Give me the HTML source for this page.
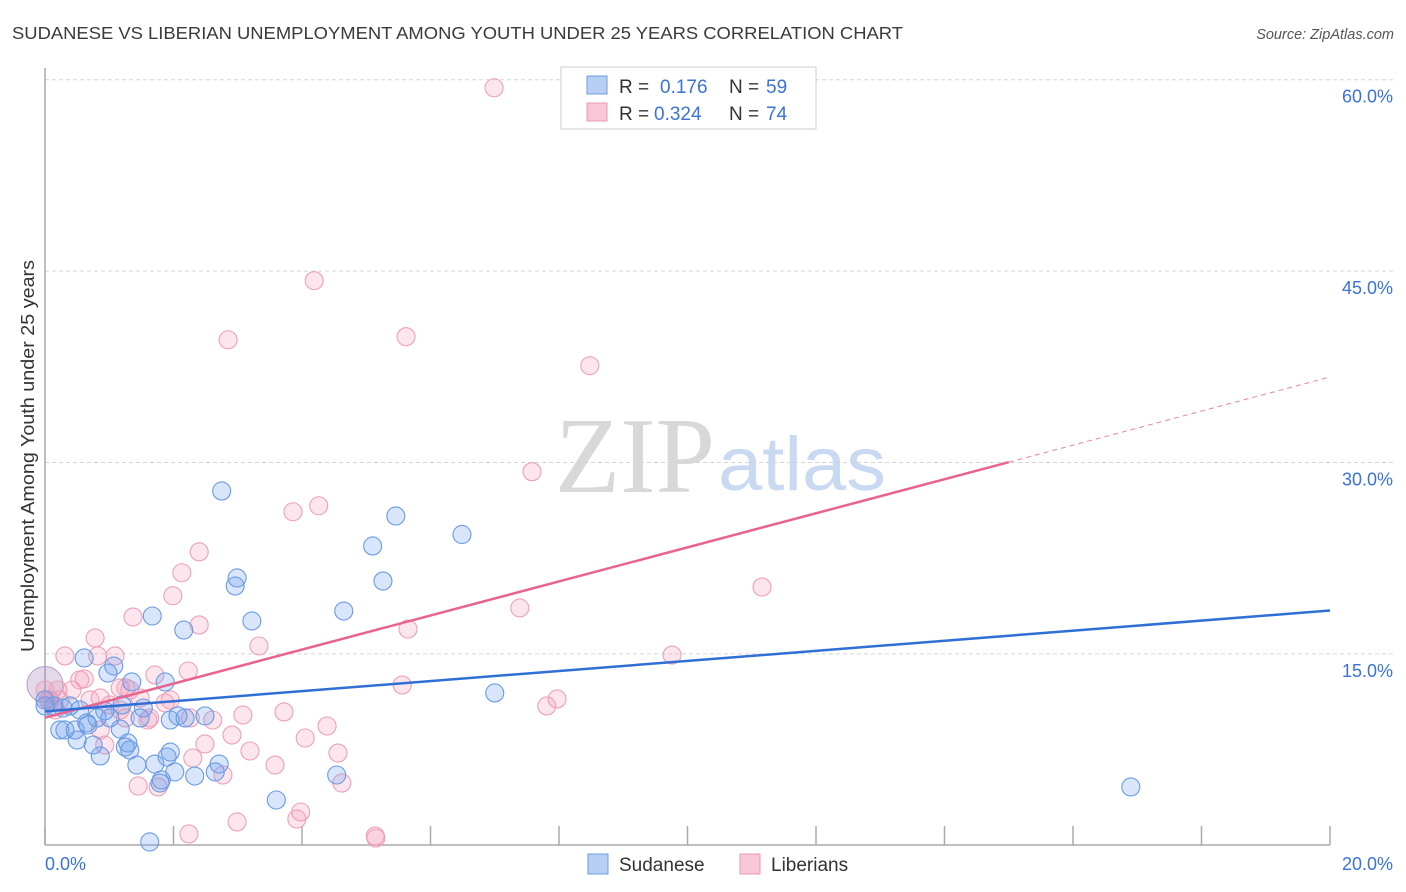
<!DOCTYPE html>
<html><head><meta charset="utf-8"><style>
body{margin:0;background:#fff;font-family:"Liberation Sans",sans-serif;}
svg{display:block}
</style></head><body>
<svg width="1406" height="892" id="chart">
<text x="12" y="39" font-size="17.5" fill="#3a3a3a" textLength="891" lengthAdjust="spacingAndGlyphs">SUDANESE VS LIBERIAN UNEMPLOYMENT AMONG YOUTH UNDER 25 YEARS CORRELATION CHART</text>
<text x="1394" y="39" font-size="14.5" fill="#555" text-anchor="end" font-style="italic">Source: ZipAtlas.com</text>
<text x="0" y="0" transform="translate(34,456) rotate(-90)" font-size="18" fill="#333" text-anchor="middle" textLength="392" lengthAdjust="spacingAndGlyphs">Unemployment Among Youth under 25 years</text>
<g>
<text x="635" y="492" font-size="108" fill="#d8d8d8" text-anchor="middle" font-family="Liberation Serif,serif" textLength="160" lengthAdjust="spacingAndGlyphs">ZIP</text>
<text x="802" y="490" font-size="76" fill="#c9d9f2" text-anchor="middle" textLength="168" lengthAdjust="spacingAndGlyphs">atlas</text>
</g>
<g id="grid"></g><g id="axes"></g><g id="pts"></g><g id="lines"></g>
<g>
<rect x="561" y="67" width="255" height="62" fill="#fff" stroke="#ccc"/>
<rect x="587" y="76" width="20" height="18" fill="#b6cff3" stroke="#6d9de4"/>
<rect x="587" y="103" width="20" height="18" fill="#f8c6d5" stroke="#eb9ab4"/>
<text x="619" y="93" font-size="19" fill="#333">R = <tspan x="660" fill="#3a72d8">0.176</tspan><tspan x="729">N = </tspan><tspan x="766" fill="#3a72d8">59</tspan></text>
<text x="619" y="120" font-size="19" fill="#333">R = <tspan x="654" fill="#3a72d8">0.324</tspan><tspan x="729">N = </tspan><tspan x="766" fill="#3a72d8">74</tspan></text>
</g>
<g>
<rect x="588" y="854" width="20" height="20" fill="#b6cff3" stroke="#6d9de4"/>
<text x="619" y="871" font-size="19" fill="#333">Sudanese</text>
<rect x="740" y="854" width="20" height="20" fill="#f8c6d5" stroke="#eb9ab4"/>
<text x="771" y="871" font-size="19" fill="#333">Liberians</text>
</g>
</svg>
<script>
const blueX=[2.75,2.99,2.96,5.46,6.49,5.10,5.26,4.65,1.67,3.22,2.16,0.61,1.07,0.98,1.35,1.87,7.00,0,0.14,0.39,0.54,0.93,1.20,1.53,2.07,2.49,1.48,0.81,0.65,0.23,0.47,1.17,1.95,0.75,1.25,1.32,0.86,0.50,1.71,1.43,1.95,1.90,2.71,2.02,2.65,2.33,1.81,4.54,3.60,16.90,1.63,0.28,0,1.01,2.18,0.67,1.29,0.31,1.79];
const blueY=[27.77,20.95,20.32,25.81,24.36,23.46,20.71,18.36,17.97,17.58,16.87,14.68,14.05,13.50,12.80,12.80,11.94,11.39,10.92,10.92,10.61,10.53,11.00,10.76,10.14,10.14,9.98,9.98,9.59,9.04,9.04,9.11,9.82,7.86,7.70,7.47,7.00,8.25,6.37,6.29,7.31,6.92,6.37,5.75,5.75,5.43,5.12,5.51,3.55,4.57,0.26,10.76,10.92,9.98,9.98,9.43,8.02,9.04,4.88];
const pinkX=[6.99,4.19,2.85,5.62,8.48,7.58,3.86,4.26,2.40,2.13,1.99,11.16,7.39,1.37,2.40,5.65,0.78,3.33,0.31,0.82,1.09,2.23,1.71,9.76,0.61,5.56,0,0.20,0.42,1.17,1.26,0.86,1.48,1.87,1.01,7.97,7.81,0.08,0.23,1.25,1.63,2.26,3.08,3.72,2.61,4.39,1.60,1.17,2.91,2.49,4.05,0.93,3.19,4.56,2.30,3.58,2.77,1.45,1.76,4.62,3.98,3.92,2.99,2.24,5.14,5.15,0.86,0.54,0.05,1.95,1.32,0.70,0.16];
const pinkY=[59.37,44.25,39.62,39.86,37.59,29.28,26.14,26.61,23.0,21.36,19.56,20.24,18.60,17.89,17.27,16.95,16.25,15.62,14.84,14.84,14.84,13.66,13.35,14.91,13.04,12.56,12.17,12.17,12.17,12.33,12.33,11.55,11.55,11.16,11.0,11.47,10.92,11.39,11.39,9.98,9.98,9.98,10.21,10.45,9.82,9.35,9.82,10.61,8.64,7.94,8.41,7.86,7.39,7.23,6.84,6.29,5.51,4.65,4.57,4.88,2.61,2.06,1.83,0.89,0.73,0.57,9.04,12.96,11.39,11.39,12.17,11.39,10.61];
const yTicks=[15,30,45,60];
const yTickLabels=["15.0%","30.0%","45.0%","60.0%"];
const xTicks=[0,2,4,6,8,10,12,14,16,18,20];
const blueTrend=[10.5,18.4];
const pinkTrend=[10.0,36.7];
const pinkSolidEnd=15;
const NS="http://www.w3.org/2000/svg";
const sx=v=>45+v*64.25, sy=v=>845.3-v*12.76;
function mk(tag,attrs,parent){const e=document.createElementNS(NS,tag);for(const k in attrs)e.setAttribute(k,attrs[k]);document.getElementById(parent).appendChild(e);return e;}
yTicks.forEach((t,i)=>{
 const g=mk('line',{x1:45,x2:1393,y1:sy(t),y2:sy(t),stroke:'#d5d5d5','stroke-dasharray':'4,3'},'grid');
 
 
 const l=mk('text',{x:1393,y:sy(t)+23,'font-size':18,fill:'#3a72d8','text-anchor':'end'},'grid');
 l.textContent=yTickLabels[i];
 
 
});
const ax=mk('line',{x1:45,x2:45,y1:68,y2:845,stroke:'#aaa','stroke-width':1.5},'axes');


const bx=mk('line',{x1:45,x2:1330,y1:845,y2:845,stroke:'#aaa','stroke-width':1.5},'axes');


xTicks.forEach(t=>{
 const k=mk('line',{x1:sx(t),x2:sx(t),y1:826,y2:845,stroke:'#aaa','stroke-width':1.5},'axes');
 
 
});
const xl0=mk('text',{x:45,y:870,'font-size':18,fill:'#3a72d8'},'axes');xl0.textContent='0.0%';


const xl1=mk('text',{x:1393,y:870,'font-size':18,fill:'#3a72d8','text-anchor':'end'},'axes');xl1.textContent='20.0%';


const big=mk('circle',{cx:sx(0),cy:sy(12.6),r:18,fill:'rgba(160,130,190,0.3)',stroke:'#b99ac8'},'pts');


pinkX.forEach((x,i)=>{
 const c=mk('circle',{cx:sx(x),cy:sy(pinkY[i]),r:9,fill:'rgba(244,150,180,0.25)',stroke:'#eea0b9','stroke-width':1.1},'pts');
 
 
});
blueX.forEach((x,i)=>{
 const c=mk('circle',{cx:sx(x),cy:sy(blueY[i]),r:9,fill:'rgba(110,160,235,0.27)',stroke:'#6a9be4','stroke-width':1.1},'pts');
 
 
});
const pv=x=>pinkTrend[0]+(pinkTrend[1]-pinkTrend[0])*x/20;
const pl=mk('line',{x1:sx(0),y1:sy(pv(0)),x2:sx(pinkSolidEnd),y2:sy(pv(pinkSolidEnd)),stroke:'#e8648e','stroke-width':2.5},'lines');


const pd=mk('line',{x1:sx(pinkSolidEnd),y1:sy(pv(pinkSolidEnd)),x2:sx(20),y2:sy(pv(20)),stroke:'#e8849f','stroke-width':1,'stroke-dasharray':'5,4'},'lines');


const bl=mk('line',{x1:sx(0),y1:sy(blueTrend[0]),x2:sx(20),y2:sy(blueTrend[1]),stroke:'#2f6fd6','stroke-width':2.5},'lines');


</script>
</body></html>
